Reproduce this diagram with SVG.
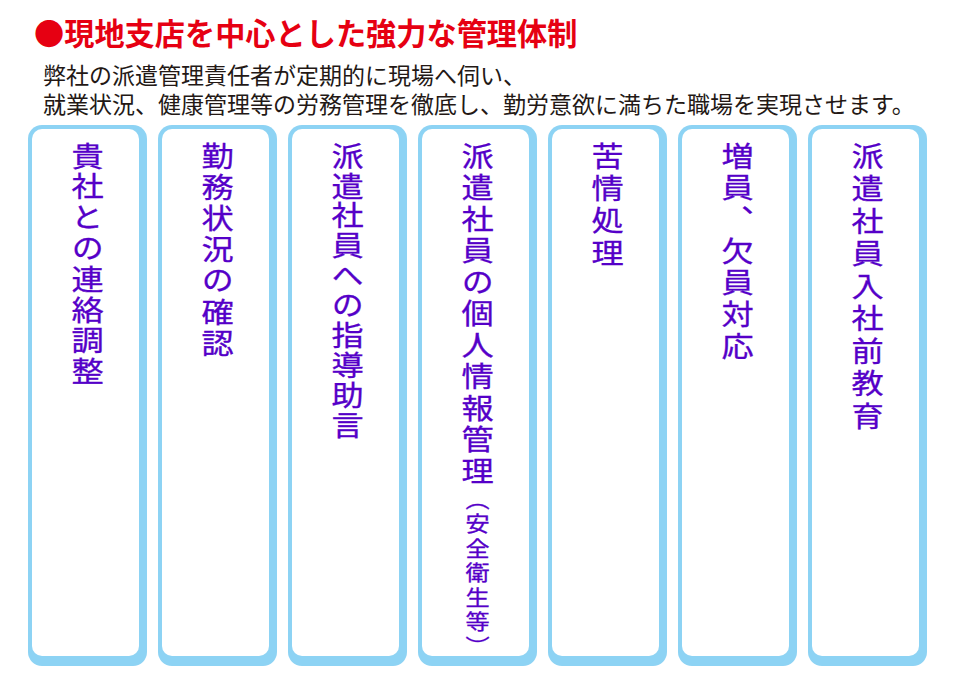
<svg xmlns="http://www.w3.org/2000/svg" width="960" height="680" viewBox="0 0 960 680">
<style>
.outer{fill:#8dd3f4}
.inner{fill:#ffffff}
.title{font-family:"Noto Sans CJK JP","Noto Sans CJK SC",sans-serif;font-size:30.2px;font-weight:700;fill:#e60012}
.lead{font-family:"Noto Sans CJK JP","Noto Sans CJK SC",sans-serif;font-size:23px;fill:#231815}
.vt{font-family:"Noto Sans CJK JP","Noto Sans CJK SC",sans-serif;font-size:28px;font-weight:400;fill:#5500c8;writing-mode:vertical-rl;text-orientation:mixed;stroke:#5500c8;stroke-width:0.3}
.sm{font-size:21px}
</style>
<rect width="960" height="680" fill="#ffffff"/>
<g id="title"><text class="title" x="34" y="45">●現地支店を中心とした強力な管理体制</text></g>
<g id="lead">
<text class="lead" x="43" y="84">弊社の派遣管理責任者が定期的に現場へ伺い、</text>
<text class="lead" x="43" y="113">就業状況、健康管理等の労務管理を徹底し、勤労意欲に満ちた職場を実現させます。</text>
</g>
<g id="n1"><rect class="outer" x="28" y="125" width="119" height="541" rx="14"/><rect class="inner" x="32" y="129" width="107" height="527" rx="10"/>
<text class="vt" transform="translate(87.5,0) scale(1.15,1)" x="0" y="142" letter-spacing="2.8">貴社との連絡調整</text></g>
<g id="n2"><rect class="outer" x="158" y="125" width="119" height="541" rx="14"/><rect class="inner" x="162" y="129" width="107" height="527" rx="10"/>
<text class="vt" transform="translate(217.5,0) scale(1.15,1)" x="0" y="142" letter-spacing="3.2">勤務状況の確認</text></g>
<g id="n3"><rect class="outer" x="288" y="125" width="119" height="541" rx="14"/><rect class="inner" x="292" y="129" width="107" height="527" rx="10"/>
<text class="vt" transform="translate(347.5,0) scale(1.15,1)" x="0" y="142" letter-spacing="1.9">派遣社員への指導助言</text></g>
<g id="n4"><rect class="outer" x="418" y="125" width="119" height="541" rx="14"/><rect class="inner" x="422" y="129" width="107" height="527" rx="10"/>
<text class="vt" transform="translate(477.5,0) scale(1.15,1)" x="0" y="142" letter-spacing="3.5">派遣社員の個人情報管理<tspan class="sm" letter-spacing="3.5">（安全衛生等）</tspan></text></g>
<g id="n5"><rect class="outer" x="548" y="125" width="119" height="541" rx="14"/><rect class="inner" x="552" y="129" width="107" height="527" rx="10"/>
<text class="vt" transform="translate(607.5,0) scale(1.15,1)" x="0" y="142" letter-spacing="4.3">苦情処理</text></g>
<g id="n6"><rect class="outer" x="678" y="125" width="119" height="541" rx="14"/><rect class="inner" x="682" y="129" width="107" height="527" rx="10"/>
<text class="vt" transform="translate(737.5,0) scale(1.15,1)" x="0" y="142" letter-spacing="3.7">増員、欠員対応</text></g>
<g id="n7"><rect class="outer" x="808" y="125" width="119" height="541" rx="14"/><rect class="inner" x="812" y="129" width="107" height="527" rx="10"/>
<text class="vt" transform="translate(867.5,0) scale(1.15,1)" x="0" y="142" letter-spacing="4.5">派遣社員入社前教育</text></g>
<g id="connectors"/>
</svg>
